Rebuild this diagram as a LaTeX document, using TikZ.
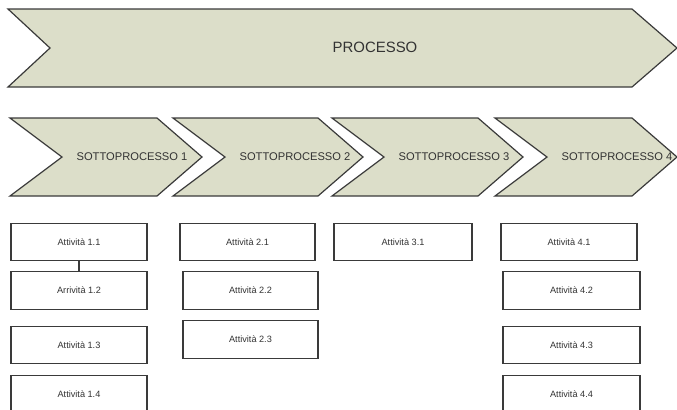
\documentclass[tikz,border=0pt]{standalone}
\usepackage{fontspec}
\setmainfont{Liberation Sans}
\begin{document}
\definecolor{chevfill}{HTML}{DCDEC9}
\definecolor{edge}{HTML}{3A3A3A}
\definecolor{ink}{HTML}{333333}
\begin{tikzpicture}[x=1bp,y=-1bp,
  chevron/.style={draw=edge,fill=chevfill,line width=1.2bp,line join=miter},
  chevlabel/.style={text=ink,font=\fontsize{11.2}{13}\selectfont,inner sep=0pt},
  mainlabel/.style={text=ink,font=\fontsize{15}{18}\selectfont,inner sep=0pt},
  taskbox/.style={draw=edge,fill=white,line width=1.2bp,rectangle,inner sep=0pt,
    minimum width=136bp,minimum height=37.5bp,text=ink,font=\fontsize{9.2}{11}\selectfont},
  link/.style={draw=edge,line width=1.2bp}]
\useasboundingbox (0,0) rectangle (677,409);
\clip (0,0) rectangle (677,409);

% main process arrow
\draw[chevron] (8,9) -- (632,9) -- (677,48) -- (632,87) -- (8,87) -- (50,48) -- cycle;
\node[mainlabel] (processo) at (375,47) {PROCESSO};

% sub-process arrows
\foreach \L/\R in {10/202,173/363,332/523,495/677}{
  \draw[chevron] (\L,118) -- (\R-45,118) -- (\R,157) -- (\R-45,196) -- (\L,196) -- (\L+52,157) -- cycle;
}
\node[chevlabel] (sp1) at (132,157) {SOTTOPROCESSO 1};
\node[chevlabel] (sp2) at (295,157) {SOTTOPROCESSO 2};
\node[chevlabel] (sp3) at (454,157) {SOTTOPROCESSO 3};
\node[chevlabel] (sp4) at (617,157) {SOTTOPROCESSO 4};

% activities
\node[taskbox] (a11) at (79,242) {Attività 1.1};
\node[taskbox] (a12) at (79,290.5) {Arrività 1.2};
\node[taskbox] (a13) at (79,345) {Attività 1.3};
\node[taskbox] (a14) at (79,394) {Attività 1.4};

\node[taskbox,minimum width=135bp] (a21) at (247.5,242) {Attività 2.1};
\node[taskbox,minimum width=135bp] (a22) at (250.5,290.5) {Attività 2.2};
\node[taskbox,minimum width=135bp] (a23) at (250.5,339.5) {Attività 2.3};

\node[taskbox,minimum width=138bp] (a31) at (403,242) {Attività 3.1};

\node[taskbox] (a41) at (569,242) {Attività 4.1};
\node[taskbox,minimum width=137bp] (a42) at (571.5,290.5) {Attività 4.2};
\node[taskbox,minimum width=137bp] (a43) at (571.5,345) {Attività 4.3};
\node[taskbox,minimum width=137bp] (a44) at (571.5,394) {Attività 4.4};

\draw[link] (a11.south) -- (a12.north);
\end{tikzpicture}
\end{document}
